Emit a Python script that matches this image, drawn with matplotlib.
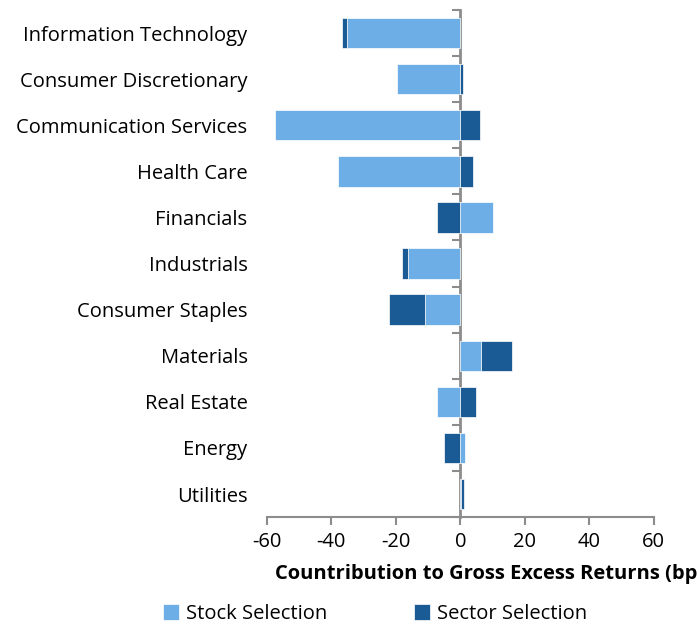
import numpy as np
import matplotlib
matplotlib.use('Agg')
import matplotlib.pyplot as plt

sectors = ['Information Technology', 'Consumer Discretionary', 'Communication Services',
           'Health Care', 'Financials', 'Industrials', 'Consumer Staples', 'Materials',
           'Real Estate', 'Energy', 'Utilities']
stock_sel = [-35.2, -19.6, -57.4, -38.0, 10.1, -16.1, -11.1, 6.3, -7.2, 1.5, 0.2]
sector_sel = [-1.5, 0.7, 6.2, 4.0, -7.3, -1.9, -10.9, 9.8, 4.8, -5.1, 0.9]

light = '#6daee6'
dark = '#1a5b96'
grey = '#8c8c8c'

plt.rcParams['font.family'] = ['Open Sans', 'DejaVu Sans']
plt.rcParams['axes.unicode_minus'] = False
fs = 14.5

fig = plt.figure(figsize=(6.97, 6.26), dpi=100)
ax = fig.add_axes([0.383, 0.174, 0.555, 0.810])

y = np.arange(len(sectors))
stock = np.array(stock_sel)
sector = np.array(sector_sel)
# stack sector selection onto stock selection when same sign
left = np.where(np.sign(stock) == np.sign(sector), stock, 0)

ax.barh(y, stock, height=0.66, color=light, edgecolor='white', linewidth=0.5, label='Stock Selection')
ax.barh(y, sector, left=left, height=0.66, color=dark, edgecolor='white', linewidth=0.5, label='Sector Selection')

ax.set_xlim(-60, 60)
ax.set_ylim(len(sectors) - 0.5, -0.5)
ax.set_xticks(np.arange(-60, 61, 20))
ax.set_yticks(y)
ax.set_yticklabels(sectors, fontsize=fs)
ax.tick_params(axis='y', length=0, pad=14)
ax.tick_params(axis='x', labelsize=fs, length=6, width=1.5, color=grey, pad=5)

for s in ['top', 'right', 'left']:
    ax.spines[s].set_visible(False)
ax.spines['bottom'].set_color(grey)
ax.spines['bottom'].set_linewidth(1.5)

# zero axis with category boundary ticks
zax = ax.secondary_yaxis(0.5)
zax.set_yticks(np.arange(-0.5, len(sectors), 1.0))
zax.yaxis.set_ticks_position('left')
zax.tick_params(axis='y', length=6, width=1.5, color=grey, labelleft=False, labelright=False)
for s in zax.spines.values():
    s.set_color(grey)
    s.set_linewidth(2)

fig.text(275 / 697, 1 - 574 / 626, 'Countribution to Gross Excess Returns (bps)',
         fontsize=fs, fontweight='bold', ha='left', va='center')

fig.legend(loc='center', bbox_to_anchor=(375 / 697, 1 - 614 / 626), ncol=2, frameon=False,
           fontsize=fs, handlelength=0.8, handleheight=0.8, handletextpad=0.3,
           columnspacing=4.35)

fig.savefig('out.png', dpi=100)
